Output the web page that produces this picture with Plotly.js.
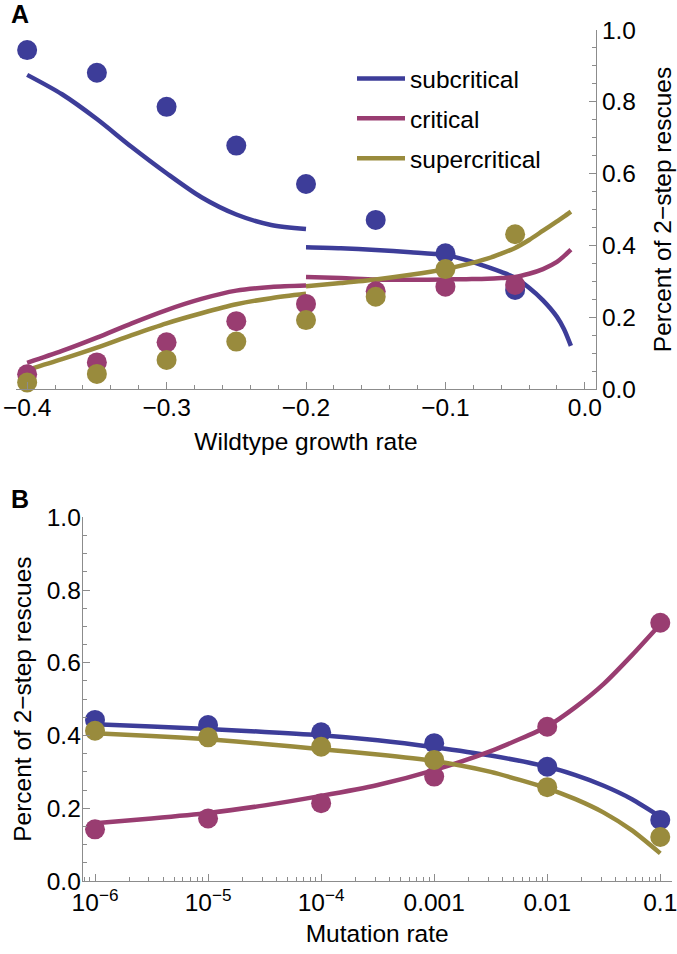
<!DOCTYPE html>
<html>
<head>
<meta charset="utf-8">
<script src="https://cdn.plot.ly/plotly-3.0.1.min.js"></script>
<style>body{margin:0;background:#fff}</style>
</head>
<body>
<div id="chart" style="width:677px;height:954px"></div>
<script>
// ---------- Panel A data ----------
const seriesNames = ['subcritical', 'critical', 'supercritical'];
const growthRate = [-0.4, -0.35, -0.3, -0.25, -0.2, -0.15, -0.1, -0.05];
const subA = [0.944, 0.881, 0.786, 0.678, 0.571, 0.471, 0.378, 0.276];
const critA = [0.041, 0.074, 0.130, 0.189, 0.237, 0.272, 0.285, 0.290];
const superA = [0.018, 0.042, 0.081, 0.132, 0.192, 0.257, 0.334, 0.431];

// theory curves, panel A (two branches, break at -0.2)
const growthCurve1 = [-0.4, -0.375, -0.35, -0.325, -0.3, -0.275, -0.25, -0.225, -0.2];
const subCurveA1 = [0.875, 0.821, 0.752, 0.674, 0.601, 0.534, 0.486, 0.457, 0.446];
const critCurveA1 = [0.073, 0.106, 0.143, 0.183, 0.220, 0.251, 0.274, 0.284, 0.288];
const superCurveA1 = [0.053, 0.083, 0.115, 0.150, 0.183, 0.211, 0.236, 0.253, 0.265];

const growthCurve2 = [-0.2, -0.175, -0.15, -0.125, -0.1, -0.085, -0.07, -0.06, -0.05, -0.04, -0.03, -0.02, -0.015, -0.01];
const subCurveA2 = [0.395, 0.392, 0.387, 0.381, 0.373, 0.359, 0.340, 0.326, 0.310, 0.282, 0.247, 0.201, 0.167, 0.120];
const critCurveA2 = [0.312, 0.309, 0.305, 0.304, 0.305, 0.306, 0.307, 0.309, 0.312, 0.321, 0.334, 0.354, 0.370, 0.388];
const superCurveA2 = [0.286, 0.295, 0.305, 0.318, 0.334, 0.347, 0.363, 0.377, 0.393, 0.415, 0.441, 0.467, 0.480, 0.494];

// ---------- Panel B data ----------
const mutationRate = [1e-6, 1e-5, 1e-4, 1e-3, 1e-2, 1e-1];
const subB = [0.443, 0.429, 0.409, 0.379, 0.314, 0.168];
const critB = [0.142, 0.172, 0.214, 0.287, 0.424, 0.710];
const superB = [0.413, 0.395, 0.369, 0.333, 0.258, 0.121];

const mutationCurve = [1e-6, 3.162e-6, 1e-5, 3.162e-5, 1e-4, 3.162e-4, 1e-3, 3.162e-3, 1e-2, 1.778e-2, 3.162e-2, 5.623e-2, 1e-1];
const subCurveB = [0.431, 0.425, 0.418, 0.410, 0.401, 0.387, 0.368, 0.345, 0.314, 0.291, 0.262, 0.225, 0.177];
const critCurveB = [0.159, 0.172, 0.187, 0.208, 0.234, 0.264, 0.305, 0.357, 0.425, 0.478, 0.542, 0.621, 0.706];
const superCurveB = [0.406, 0.399, 0.390, 0.377, 0.362, 0.348, 0.330, 0.300, 0.255, 0.225, 0.188, 0.139, 0.076];

const xTickValsB = [1e-6, 1e-5, 1e-4, 1e-3, 1e-2, 1e-1];
const xTickTextB = ['10<sup>\u22126</sup>', '10<sup>\u22125</sup>', '10<sup>\u22124</sup>', '0.001', '0.01', '0.1'];

const colors = ['#3d3d99', '#993d71', '#998b3d'];

// ---------- build traces ----------
function joinSegments(a, b) { return a.concat([null], b); }

const traces = [];
const curvesA = [[subCurveA1, subCurveA2], [critCurveA1, critCurveA2], [superCurveA1, superCurveA2]];
const pointsA = [subA, critA, superA];
const curvesB = [subCurveB, critCurveB, superCurveB];
const pointsB = [subB, critB, superB];

for (let i = 0; i < 3; i++) {
  traces.push({
    x: joinSegments(growthCurve1, growthCurve2),
    y: joinSegments(curvesA[i][0], curvesA[i][1]),
    mode: 'lines', name: seriesNames[i], legendgroup: 'g' + i,
    line: {color: colors[i], width: 4.5, shape: 'spline', smoothing: 0.8}, connectgaps: false,
    xaxis: 'x', yaxis: 'y', hoverinfo: 'skip'
  });
}
for (let i = 0; i < 3; i++) {
  traces.push({
    x: growthRate, y: pointsA[i], mode: 'markers', showlegend: false,
    marker: {color: colors[i], size: 20}, cliponaxis: false,
    xaxis: 'x', yaxis: 'y'
  });
}
for (let i = 0; i < 3; i++) {
  traces.push({
    x: mutationCurve, y: curvesB[i], mode: 'lines', showlegend: false,
    line: {color: colors[i], width: 4.5, shape: 'spline', smoothing: 0.6},
    xaxis: 'x2', yaxis: 'y2', hoverinfo: 'skip'
  });
}
for (let i = 0; i < 3; i++) {
  traces.push({
    x: mutationRate, y: pointsB[i], mode: 'markers', showlegend: false,
    marker: {color: colors[i], size: 20}, cliponaxis: false,
    xaxis: 'x2', yaxis: 'y2'
  });
}

// minor tick positions for the log axis (2..9 per decade)
const minorB = [];
for (let e = -7; e <= -1; e++) {
  for (let d = 2; d <= 9; d++) minorB.push(d * Math.pow(10, e));
}

const W = 677, H = 954;
const FS = 24.5;
const axisGray = '#8c8c8c';
const common = {
  showline: true, linecolor: axisGray, linewidth: 1,
  ticks: 'inside', ticklen: 7, tickwidth: 1, tickcolor: axisGray,
  showgrid: false, zeroline: false, ticklabeloverflow: 'allow',
  tickfont: {size: FS, color: '#000'}
};

const layout = {
  width: W, height: H,
  margin: {l: 0, r: 0, t: 0, b: 0},
  paper_bgcolor: '#fff', plot_bgcolor: '#fff',
  font: {family: 'Liberation Sans, Arial, Helvetica, sans-serif', size: FS, color: '#000'},
  showlegend: true,
  legend: {
    x: 352 / W, y: 1 - 56 / H, xanchor: 'left', yanchor: 'top',
    bgcolor: 'rgba(0,0,0,0)', font: {size: FS}, tracegroupgap: 5, itemwidth: 48
  },
  xaxis: Object.assign({}, common, {
    domain: [16 / W, 596 / W], anchor: 'y',
    range: [-0.408, 0.008], tick0: 0, dtick: 0.1, tickformat: '.1f',
    ticklabelstandoff: -3,
    minor: {tick0: 0, dtick: 0.02, ticks: 'inside', ticklen: 4, tickcolor: axisGray},
    title: {text: 'Wildtype growth rate', font: {size: FS}, standoff: 12}
  }),
  yaxis: Object.assign({}, common, {
    domain: [1 - 389 / H, 1 - 30 / H], anchor: 'x', side: 'right',
    range: [0, 1], tick0: 0, dtick: 0.2, tickformat: '.1f',
    minor: {tick0: 0, dtick: 0.05, ticks: 'inside', ticklen: 4, tickcolor: axisGray},
    title: {text: 'Percent of 2\u2212step rescues', font: {size: FS}, standoff: 18}
  }),
  xaxis2: Object.assign({}, common, {
    domain: [82.7 / W, 671.7 / W], anchor: 'y2', type: 'log',
    range: [-6.109, -0.899], tickmode: 'array', tickvals: xTickValsB, ticktext: xTickTextB,
    minor: {tickmode: 'array', tickvals: minorB, ticks: 'inside', ticklen: 4, tickcolor: axisGray},
    title: {text: 'Mutation rate', font: {size: FS}, standoff: 9}
  }),
  yaxis2: Object.assign({}, common, {
    domain: [1 - 881 / H, 1 - 517.3 / H], anchor: 'x2', side: 'left',
    range: [0, 1], tick0: 0, dtick: 0.2, tickformat: '.1f',
    ticklabelstandoff: -4,
    minor: {tick0: 0, dtick: 0.05, ticks: 'inside', ticklen: 4, tickcolor: axisGray},
    title: {text: 'Percent of 2\u2212step rescues', font: {size: FS}, standoff: 8}
  }),
  annotations: [
    {text: '<b>A</b>', xref: 'paper', yref: 'paper', x: 9 / W, y: 1 - 13.5 / H,
     xanchor: 'left', yanchor: 'middle', showarrow: false, font: {size: 25, family: 'Liberation Sans, Arial, sans-serif'}},
    {text: '<b>B</b>', xref: 'paper', yref: 'paper', x: 9 / W, y: 1 - 498.5 / H,
     xanchor: 'left', yanchor: 'middle', showarrow: false, font: {size: 25, family: 'Liberation Sans, Arial, sans-serif'}}
  ]
};

Plotly.newPlot('chart', traces, layout, {staticPlot: true, displayModeBar: false});
</script>
</body>
</html>
